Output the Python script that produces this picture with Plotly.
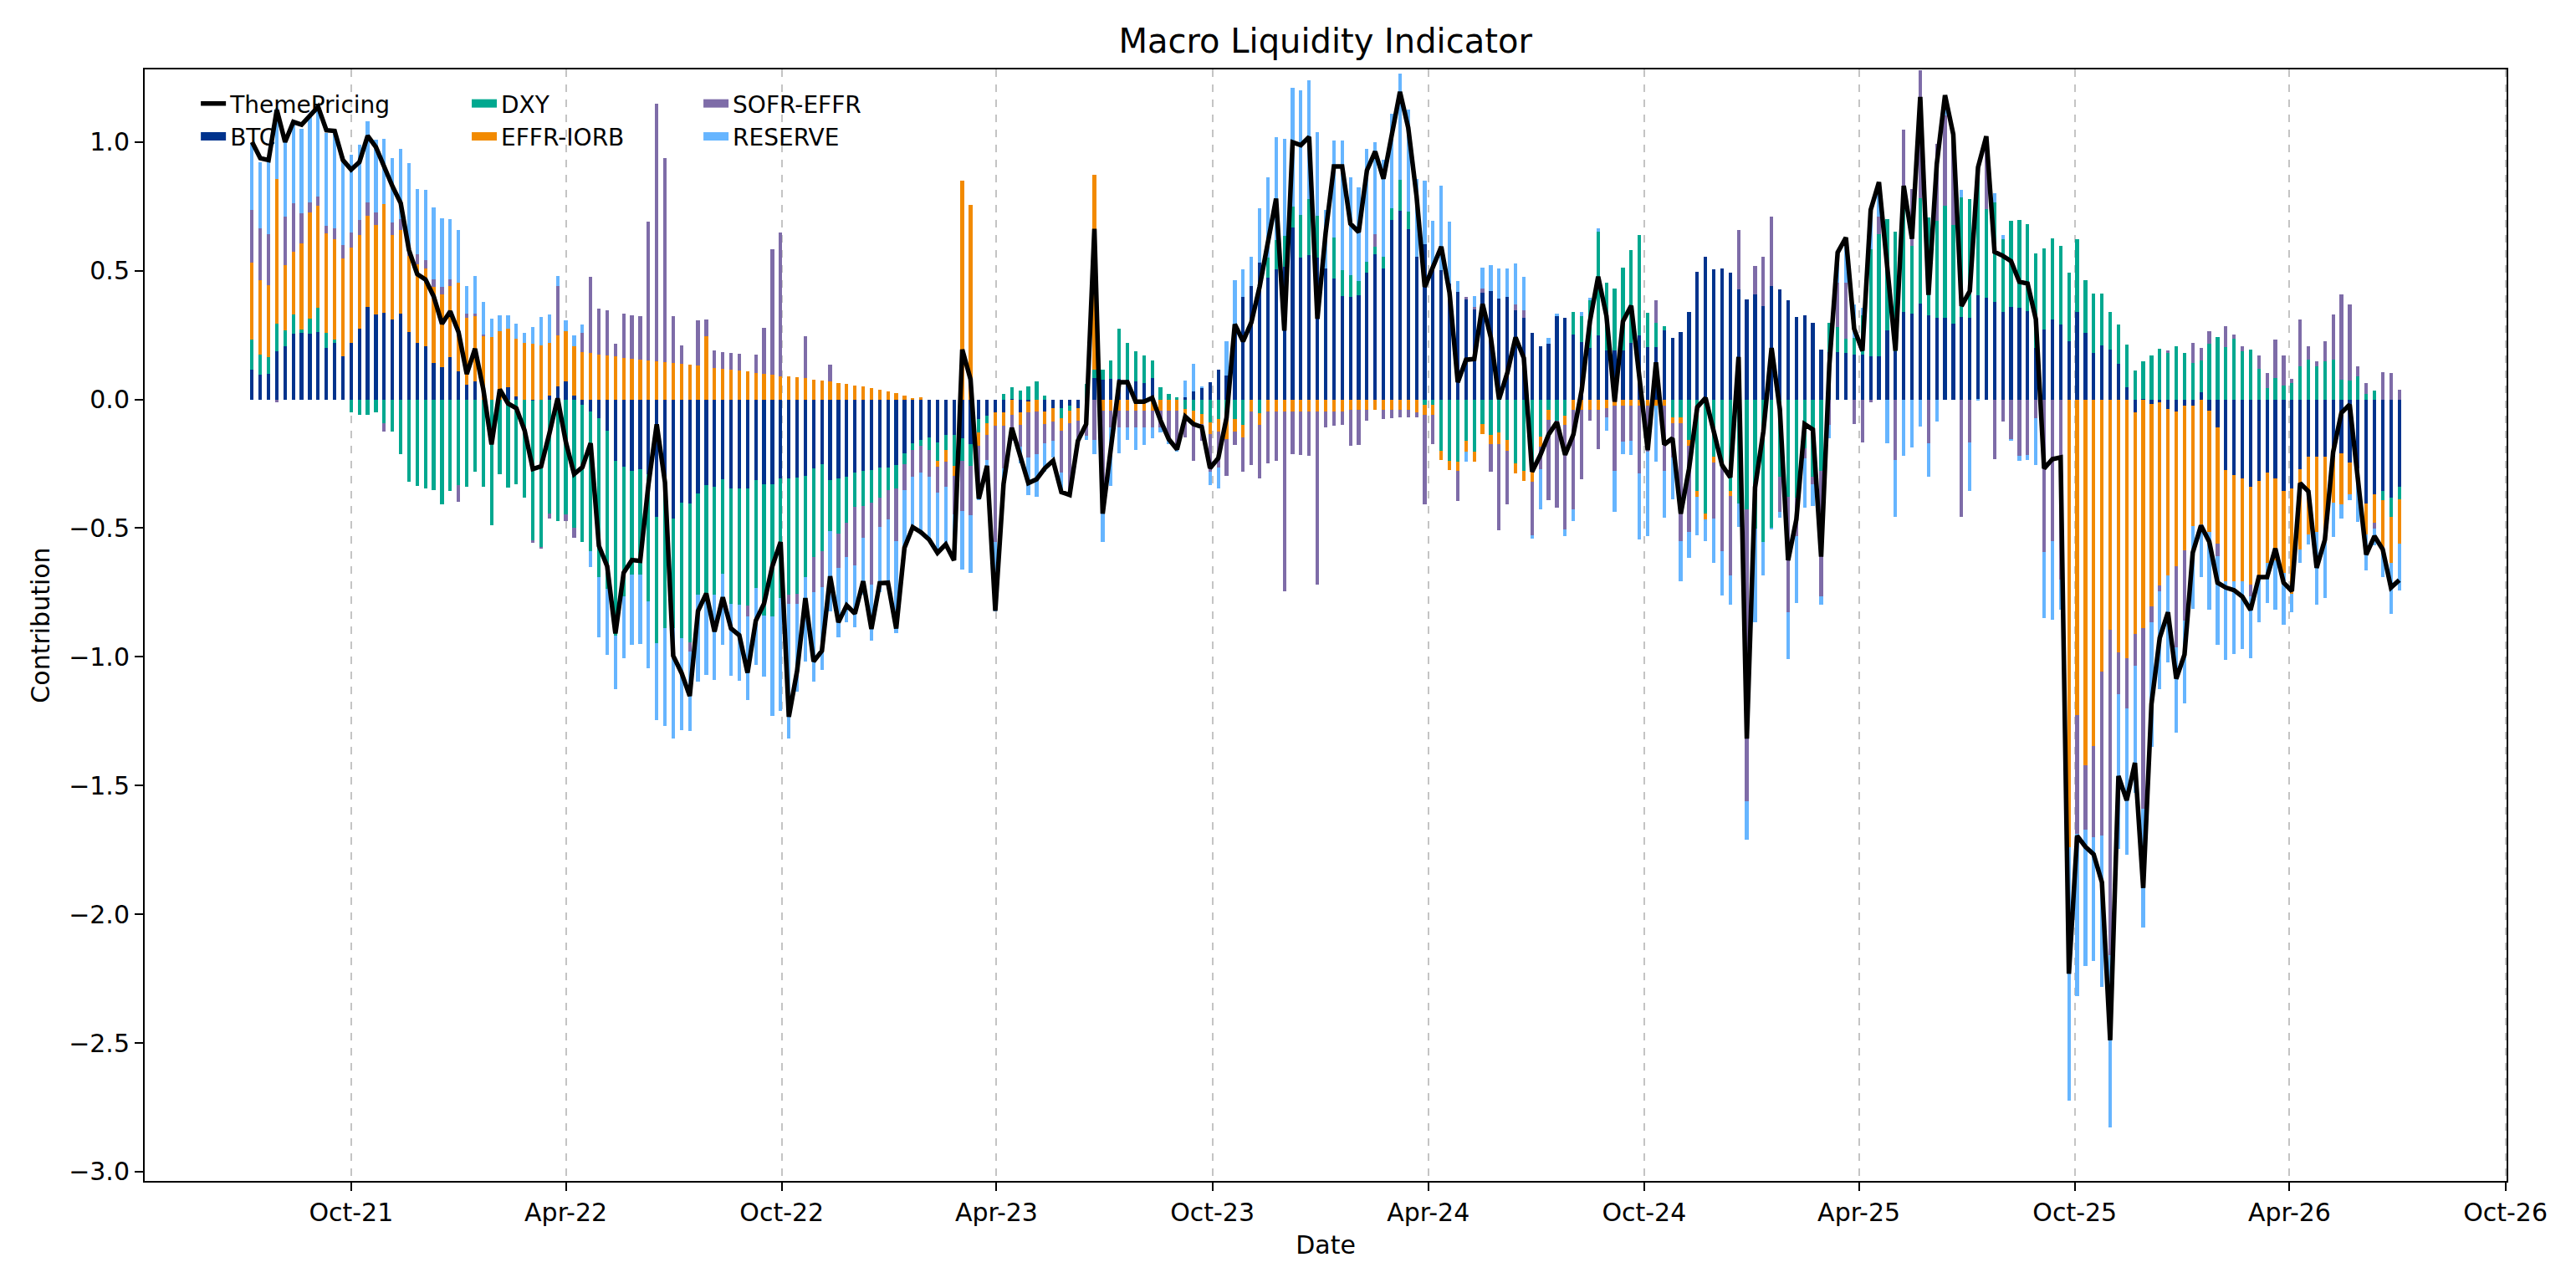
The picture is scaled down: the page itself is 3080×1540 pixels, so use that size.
import plotly.graph_objects as go
import pandas as pd

# Weekly observation dates (Fridays)
dates = pd.date_range("2021-07-09", periods=261, freq="7D")

btc = [
0.116,0.097,0.1,0.187,0.207,0.255,0.26,0.255,0.262,0.2,
0.218,0.168,0.22,0.276,0.36,0.33,0.336,0.312,0.333,0.262,
0.218,0.207,0.142,0.126,0.165,0.11,0.058,0.071,0.0,0.0,
0.0,0.048,0.012,0.0,-0.003,-0.002,0.016,0.051,0.071,0.015,
-0.02,-0.046,-0.073,-0.122,-0.239,-0.261,-0.277,-0.271,-0.29,-0.455,
-0.30,-0.463,-0.402,-0.405,-0.365,-0.332,-0.339,-0.31,-0.347,-0.345,
-0.345,-0.313,-0.331,-0.331,-0.307,-0.306,-0.303,-0.297,-0.267,-0.252,
-0.313,-0.306,-0.30,-0.284,-0.276,-0.274,-0.264,-0.263,-0.255,-0.209,
-0.171,-0.157,-0.146,-0.168,-0.139,-0.139,-0.151,-0.175,-0.077,-0.064,
-0.049,-0.049,0.003,-0.049,-0.009,0.0,-0.048,-0.035,-0.033,-0.023,
-0.033,0.0,0.084,0.077,0.081,0.081,0.078,0.071,0.064,0.083,
0.0,0.0,0.0,0.009,0.032,0.045,0.067,0.117,0.093,0.292,
0.399,0.439,0.531,0.473,0.506,0.516,0.669,0.551,0.56,0.55,
0.509,0.47,0.4,0.397,0.405,0.493,0.564,0.509,0.698,0.734,
0.661,0.553,0.603,0.502,0.502,0.45,0.418,0.389,0.348,0.415,
0.421,0.392,0.399,0.345,0.316,0.258,0.207,0.216,0.322,0.318,
0.252,0.223,0.199,0.249,0.189,0.19,0.19,0.22,0.249,0.203,
0.203,0.267,0.238,0.262,0.339,0.496,0.554,0.506,0.509,0.492,
0.426,0.387,0.409,0.363,0.441,0.426,0.386,0.321,0.328,0.296,
0.194,0.184,0.184,0.18,0.173,0.174,0.167,0.167,0.268,0.186,
0.341,0.334,0.373,0.326,0.316,0.316,0.293,0.319,0.316,0.406,
0.394,0.38,0.339,0.358,0.355,0.344,0.2,0.271,0.31,0.29,
0.225,0.341,0.258,0.181,0.21,0.193,0.138,0.046,-0.051,0.003,
-0.019,-0.012,-0.036,-0.046,-0.025,-0.025,0.028,-0.045,-0.11,-0.273,
-0.294,-0.306,-0.339,-0.316,-0.284,-0.306,-0.354,-0.345,-0.27,-0.223,
-0.223,-0.223,-0.223,-0.209,-0.245,-0.267,-0.403,-0.368,-0.357,-0.383,
-0.339]

dxy = [
0.117,0.077,0.065,0.106,0.061,0.075,0.012,0.06,0.094,0.06,
0.013,0.0,-0.05,-0.061,-0.061,-0.049,-0.093,-0.125,-0.212,-0.319,
-0.336,-0.345,-0.351,-0.406,-0.357,-0.332,-0.339,-0.281,-0.339,-0.49,
-0.289,-0.344,-0.329,-0.38,-0.547,-0.57,-0.444,-0.474,-0.448,-0.50,
-0.534,-0.544,-0.616,-0.613,-0.677,-0.503,-0.405,-0.41,-0.493,-0.493,
-0.588,-0.425,-0.525,-0.538,-0.392,-0.428,-0.42,-0.367,-0.447,-0.452,
-0.456,-0.419,-0.51,-0.513,-0.464,-0.454,-0.451,-0.392,-0.345,-0.338,
-0.197,-0.215,-0.178,-0.132,-0.138,-0.128,-0.116,-0.09,-0.091,-0.041,
-0.026,-0.022,-0.05,-0.072,-0.058,-0.119,-0.087,-0.084,-0.051,-0.027,
0.0,0.02,0.045,0.036,0.049,0.071,0.016,0.0,-0.041,-0.022,
0.0,0.059,0.032,0.039,0.07,0.193,0.142,0.116,0.106,0.068,
0.046,0.02,0.009,-0.036,-0.045,-0.057,-0.088,-0.075,-0.074,-0.075,
-0.1,0.0,-0.054,0.077,0.112,0.119,0.08,0.165,0.219,0.165,
0.0,0.16,0.102,0.086,0.054,0.041,0.028,0.044,0.044,0.119,
0.068,0.0,-0.02,-0.02,-0.199,-0.238,-0.241,-0.162,-0.204,-0.097,
-0.139,-0.129,-0.158,-0.248,-0.277,-0.281,-0.144,-0.039,-0.081,-0.062,
0.087,0.102,0.189,0.403,0.265,0.241,0.323,0.36,0.39,0.133,
0.093,0.017,-0.07,-0.07,-0.158,-0.357,-0.444,-0.223,-0.263,-0.354,
-0.403,-0.426,-0.502,-0.553,-0.499,-0.3,-0.379,-0.38,-0.19,-0.299,
-0.277,0.112,0.097,0.055,0.065,0.152,0.416,0.474,0.431,0.467,
0.471,0.264,0.41,0.38,0.377,0.438,0.386,0.466,0.461,0.5,
0.345,0.386,0.284,0.336,0.341,0.336,0.366,0.316,0.316,0.305,
0.268,0.283,0.206,0.231,0.202,0.148,0.152,0.168,0.113,0.146,
0.171,0.196,0.181,0.207,0.181,0.141,0.123,0.216,0.242,0.204,
0.235,0.186,0.194,0.119,0.045,0.084,0.054,0.064,0.129,0.155,
0.129,0.148,0.155,0.075,0.073,0.088,0.023,0.035,-0.033,-0.073,
-0.048]

effr_iorb = [
0.297,0.29,0.278,0.563,0.254,0.244,0.335,0.413,0.397,0.384,
0.393,0.38,0.37,0.364,0.354,0.348,0.423,0.328,0.325,0.297,
0.306,0.302,0.294,0.283,0.274,0.345,0.258,0.251,0.248,0.242,
0.264,0.228,0.223,0.218,0.215,0.209,0.204,0.199,0.193,0.19,
0.184,0.181,0.174,0.171,0.168,0.161,0.158,0.155,0.152,0.148,
0.145,0.142,0.139,0.135,0.131,0.247,0.122,0.119,0.116,0.113,
0.109,0.102,0.099,0.096,0.091,0.09,0.087,0.084,0.077,0.074,
0.071,0.064,0.061,0.055,0.051,0.045,0.038,0.032,0.025,0.015,
0.004,0.01,0.0,-0.022,-0.044,-0.038,0.851,0.757,-0.052,-0.046,
-0.054,-0.054,-0.059,-0.051,-0.041,-0.048,-0.048,-0.051,-0.046,-0.048,
-0.048,0.0,0.757,-0.045,-0.045,-0.045,-0.045,-0.045,-0.045,-0.045,
-0.045,-0.045,-0.045,-0.03,-0.058,-0.039,-0.045,-0.049,-0.08,-0.05,
-0.048,-0.046,-0.044,-0.046,-0.046,-0.046,-0.046,-0.046,-0.046,-0.046,
-0.046,-0.046,-0.046,-0.039,-0.039,-0.039,-0.039,-0.039,-0.039,-0.039,
-0.039,-0.049,-0.041,-0.039,-0.036,-0.036,-0.038,-0.042,-0.038,-0.039,
-0.033,-0.044,-0.041,-0.038,-0.038,-0.038,-0.039,-0.039,0.0,-0.038,
-0.041,-0.041,-0.041,-0.041,-0.033,-0.023,-0.023,-0.023,-0.023,-0.023,
-0.023,-0.023,-0.022,-0.022,-0.022,-0.022,-0.022,-0.022,0.0,-0.022,
0.0,0.0,0.0,0.0,0.0,0.0,0.0,0.0,0.0,0.0,
0.0,0.0,0.0,0.0,0.0,0.0,0.0,0.0,0.0,0.0,
0.0,0.0,0.0,0.0,0.0,0.0,0.0,0.0,0.0,0.0,
0.0,0.0,0.0,0.0,0.0,0.0,0.0,0.0,0.0,0.0,
-1.738,-1.226,-1.422,-1.346,-1.056,-0.895,-0.984,-1.006,-0.86,-0.889,
-0.784,-0.71,-0.649,-0.602,-0.562,-0.468,-0.487,-0.471,-0.45,-0.432,
-0.413,-0.399,-0.38,-0.371,-0.352,-0.319,-0.32,-0.41,-0.312,-0.30,
-0.293,-0.29,-0.177,-0.199,-0.123,0.0,-0.12,-0.112,-0.191,-0.18,
-0.173]

sofr_effr = [
0.206,0.2,0.2,-0.01,0.189,0.189,0.115,0.038,0.035,0.03,
0.042,0.052,0.06,0.057,0.052,0.048,-0.032,0.048,0.042,0.02,
0.04,0.033,0.029,0.029,0.026,-0.065,0.017,0.012,0.004,0.0,
0.0,0.0,0.0,0.0,-0.006,-0.009,-0.019,0.189,-0.026,-0.036,
0.075,0.295,0.178,0.175,0.048,0.173,0.17,0.167,0.538,1.0,
0.792,0.18,0.072,-0.035,0.177,0.064,0.067,0.065,0.065,0.064,
-0.041,0.073,0.18,0.486,0.559,-0.033,-0.039,0.162,-0.138,-0.138,
0.064,-0.135,-0.133,-0.229,-0.123,-0.316,-0.116,-0.113,-0.206,-0.102,
-0.104,-0.106,-0.104,-0.101,-0.099,-0.15,-0.196,-0.191,-0.15,-0.098,
-0.45,-0.164,-0.1,-0.083,-0.174,-0.164,-0.075,-0.075,-0.164,-0.278,
-0.065,-0.142,-0.157,-0.399,-0.065,-0.065,-0.065,-0.065,-0.065,-0.065,
-0.065,-0.109,-0.149,-0.08,-0.135,-0.065,-0.148,-0.139,-0.142,-0.052,
-0.133,-0.21,-0.209,-0.202,-0.194,-0.699,-0.165,-0.17,-0.174,-0.675,
-0.061,-0.057,-0.054,-0.141,-0.139,-0.044,0.051,-0.036,-0.035,-0.032,
-0.029,-0.022,-0.347,-0.116,0.0,0.0,-0.115,0.009,0.012,0.017,
-0.109,-0.334,-0.209,0.025,0.029,-0.209,-0.087,-0.312,-0.338,-0.404,
-0.386,-0.268,-0.043,-0.152,-0.038,-0.254,-0.141,-0.138,-0.264,-0.181,
0.09,-0.254,-0.135,-0.457,-0.335,0.0,0.0,-0.218,-0.326,-0.307,
0.232,-1.136,0.11,0.192,0.27,-0.137,-0.449,-0.15,-0.04,-0.03,
-0.489,-0.099,0.174,0.22,-0.094,-0.167,-0.01,0.07,0.0,-0.236,
0.236,0.218,0.496,-0.171,0.3,0.348,0.351,-0.457,-0.167,0.0,
0.283,-0.232,-0.087,-0.157,-0.22,-0.215,-0.073,-0.592,-0.551,-0.70,
0.0,-0.462,-0.251,-0.356,-0.639,-1.264,-0.162,-0.193,-0.124,-0.701,
-0.062,-0.022,0.01,-0.314,-0.273,0.08,0.048,0.049,-0.048,0.08,
0.017,0.019,-0.046,0.052,0.057,0.149,0.117,0.015,0.181,0.052,
0.019,0.078,0.174,0.334,0.296,0.041,0.041,-0.022,0.106,0.103,
0.038]

reserve = [
0.258,0.257,0.28,0.277,0.29,0.31,0.33,0.338,0.35,0.36,
0.373,0.344,0.30,0.294,0.313,0.283,0.252,0.248,0.273,0.34,
0.254,0.273,0.28,0.267,0.235,0.203,0.106,0.144,0.126,0.073,
0.064,0.052,0.06,0.042,0.067,0.112,0.11,0.039,0.044,0.044,
0.032,-0.061,-0.235,-0.258,-0.21,-0.24,-0.271,-0.268,-0.261,-0.299,
-0.38,-0.43,-0.357,-0.309,-0.34,-0.309,-0.33,-0.276,-0.278,-0.296,
-0.326,-0.3,-0.235,-0.384,-0.438,-0.523,-0.341,-0.329,-0.345,-0.322,
-0.312,-0.268,-0.254,-0.239,-0.22,-0.218,-0.254,-0.27,-0.355,-0.225,
-0.2,-0.239,-0.251,-0.239,-0.228,-0.18,-0.228,-0.225,-0.06,-0.025,
-0.27,-0.081,0.0,-0.065,-0.148,-0.167,-0.11,-0.065,-0.076,0.0,
-0.015,-0.015,-0.055,-0.109,-0.225,-0.099,-0.048,-0.087,-0.068,-0.041,
-0.017,-0.02,-0.01,0.065,0.107,0.005,-0.052,-0.083,0.133,0.172,
0.107,0.115,0.212,0.313,0.402,0.377,0.46,0.486,0.461,0.323,
0.228,0.377,0.505,0.38,0.365,0.439,0.357,0.377,0.367,0.413,
0.396,0.305,0.247,0.193,0.329,0.24,0.041,-0.038,0.041,0.08,
0.1,0.117,0.11,0.157,0.131,-0.012,-0.157,0.023,0.01,-0.026,
-0.046,0.015,0.006,0.012,-0.049,-0.16,-0.048,-0.054,-0.258,-0.326,
-0.22,-0.184,-0.16,-0.157,-0.102,-0.148,-0.083,-0.173,-0.174,-0.113,
-0.091,-0.148,-0.363,-0.131,-0.007,-0.022,-0.181,-0.26,-0.19,-0.086,
-0.033,-0.052,0.116,0.174,0.13,0.029,0.167,0.133,-0.171,-0.22,
-0.218,-0.186,-0.104,-0.129,-0.087,0.08,0.0,0.03,-0.189,-0.004,
0.0,0.035,0.015,-0.003,-0.019,-0.02,-0.181,-0.257,-0.305,-0.117,
-0.986,-0.63,-0.529,-0.479,-0.587,-0.67,-0.6,-0.571,-0.493,-0.46,
-0.485,-0.382,-0.335,-0.331,-0.32,-0.322,-0.203,-0.30,-0.346,-0.307,
-0.283,-0.265,-0.241,-0.177,-0.155,-0.191,-0.2,-0.07,-0.054,-0.039,
-0.283,-0.257,-0.135,-0.054,-0.022,-0.209,-0.141,-0.065,-0.109,-0.197,
-0.181]

theme_pricing = [
1.0,0.937,0.93,1.125,1.0,1.078,1.067,1.10,1.137,1.046,
1.043,0.93,0.893,0.922,1.024,0.98,0.9,0.828,0.763,0.58,
0.487,0.466,0.40,0.294,0.342,0.262,0.099,0.197,0.04,-0.175,
0.039,-0.016,-0.034,-0.12,-0.27,-0.26,-0.133,0.004,-0.166,-0.29,
-0.263,-0.17,-0.569,-0.648,-0.909,-0.673,-0.624,-0.627,-0.33,-0.097,
-0.322,-0.996,-1.062,-1.152,-0.822,-0.754,-0.902,-0.769,-0.89,-0.916,
-1.062,-0.859,-0.793,-0.648,-0.554,-1.233,-1.054,-0.772,-1.018,-0.977,
-0.687,-0.866,-0.80,-0.832,-0.706,-0.892,-0.714,-0.712,-0.89,-0.576,
-0.496,-0.516,-0.545,-0.596,-0.563,-0.625,0.194,0.078,-0.386,-0.258,
-0.821,-0.328,-0.11,-0.219,-0.325,-0.31,-0.267,-0.238,-0.36,-0.371,
-0.161,-0.096,0.663,-0.444,-0.197,0.067,0.067,-0.009,-0.009,0.006,
-0.081,-0.154,-0.194,-0.067,-0.096,-0.107,-0.267,-0.228,-0.071,0.292,
0.226,0.299,0.437,0.611,0.78,0.267,0.999,0.988,1.02,0.313,
0.647,0.905,0.905,0.683,0.65,0.89,0.963,0.857,1.038,1.195,
1.056,0.792,0.437,0.516,0.593,0.415,0.067,0.154,0.157,0.371,
0.241,0.001,0.103,0.241,0.161,-0.281,-0.216,-0.136,-0.088,-0.215,
-0.136,0.035,0.303,0.477,0.325,-0.009,0.303,0.364,0.078,-0.197,
0.144,-0.175,-0.151,-0.444,-0.27,-0.03,0.006,-0.125,-0.255,-0.303,
0.165,-1.318,-0.342,-0.125,0.2,-0.038,-0.625,-0.466,-0.096,-0.117,
-0.611,0.136,0.571,0.629,0.274,0.189,0.736,0.844,0.522,0.189,
0.83,0.624,1.175,0.406,0.914,1.182,1.03,0.363,0.421,0.902,
1.022,0.573,0.558,0.537,0.457,0.45,0.312,-0.268,-0.232,-0.225,
-2.231,-1.695,-1.738,-1.767,-1.876,-2.49,-1.463,-1.557,-1.412,-1.898,
-1.184,-0.926,-0.827,-1.085,-0.991,-0.595,-0.49,-0.553,-0.712,-0.731,
-0.741,-0.766,-0.818,-0.69,-0.69,-0.579,-0.712,-0.745,-0.325,-0.357,
-0.654,-0.545,-0.204,-0.052,-0.02,-0.313,-0.603,-0.531,-0.582,-0.731,
-0.702]

tick_dates = ["2021-10-01", "2022-04-01", "2022-10-01", "2023-04-01", "2023-10-01",
              "2024-04-01", "2024-10-01", "2025-04-01", "2025-10-01", "2026-04-01", "2026-10-01"]
tick_labels = ["Oct-21", "Apr-22", "Oct-22", "Apr-23", "Oct-23",
               "Apr-24", "Oct-24", "Apr-25", "Oct-25", "Apr-26", "Oct-26"]
y_ticks = [-3.0, -2.5, -2.0, -1.5, -1.0, -0.5, 0.0, 0.5, 1.0]

FONT = "DejaVu Sans"
bar_width_ms = 3 * 86400000

series = [
    ("BTC", btc, "#00338D", "legend", 2),
    ("DXY", dxy, "#00A88F", "legend2", 1),
    ("EFFR-IORB", effr_iorb, "#F28A00", "legend2", 2),
    ("SOFR-EFFR", sofr_effr, "#7E6CA8", "legend3", 1),
    ("RESERVE", reserve, "#66B5FF", "legend3", 2),
]

fig = go.Figure()
for name, vals, col, leg, rank in series:
    fig.add_trace(go.Bar(
        x=dates, y=vals, name=name, marker=dict(color=col, line=dict(width=0)),
        width=bar_width_ms, showlegend=False, legendgroup=name,
    ))

fig.add_trace(go.Scatter(
    x=dates, y=theme_pricing, mode="lines", name="ThemePricing",
    line=dict(color="black", width=5.5), legend="legend", legendrank=1,
))

# Legend-only entries drawn as wide patches (like matplotlib's rectangles)
for name, vals, col, leg, rank in series:
    fig.add_trace(go.Scatter(
        x=[None], y=[None], mode="lines", name=name, legendgroup=name,
        line=dict(color=col, width=19), legend=leg, legendrank=rank,
    ))

leg_common = dict(
    bgcolor="rgba(0,0,0,0)", borderwidth=0, font=dict(family=FONT, size=28, color="black"),
    orientation="v", traceorder="normal", yanchor="top", xanchor="left",
    itemwidth=30,
)

fig.update_layout(
    width=3080, height=1540,
    paper_bgcolor="white", plot_bgcolor="white",
    barmode="relative", bargap=0,
    margin=dict(l=173, r=83, t=83, b=128, autoexpand=False),
    font=dict(family=FONT, size=30, color="black"),
    title=dict(text="Macro Liquidity Indicator", x=0.5145, xanchor="center",
               y=1 - 49 / 1540, yanchor="middle", yref="container",
               font=dict(family=FONT, size=40, color="black")),
    legend=dict(x=0.022, y=0.988, **leg_common),
    legend2=dict(x=0.1367, y=0.988, **leg_common),
    legend3=dict(x=0.2348, y=0.988, **leg_common),
    xaxis=dict(
        type="date", range=["2021-04-09", "2026-10-02"],
        tickvals=tick_dates, ticktext=tick_labels,
        showgrid=True, gridcolor="#c4c4c4", griddash="dash", gridwidth=2,
        showline=True, linecolor="black", linewidth=2, mirror=True,
        ticks="outside", ticklen=10, tickwidth=2, tickcolor="black",
        tickfont=dict(family=FONT, size=30, color="black"),
        title=dict(text="Date", font=dict(family=FONT, size=30, color="black"), standoff=12),
        zeroline=False, automargin=False,
    ),
    yaxis=dict(
        range=[-3.036, 1.282], tickvals=y_ticks, tickformat=".1f",
        showgrid=False, zeroline=False,
        showline=True, linecolor="black", linewidth=2, mirror=True,
        ticks="outside", ticklen=10, tickwidth=2, tickcolor="black",
        tickfont=dict(family=FONT, size=30, color="black"),
        title=dict(text="Contribution", font=dict(family=FONT, size=30, color="black"), standoff=14),
        automargin=False,
    ),
)

fig.write_html("out.html")
